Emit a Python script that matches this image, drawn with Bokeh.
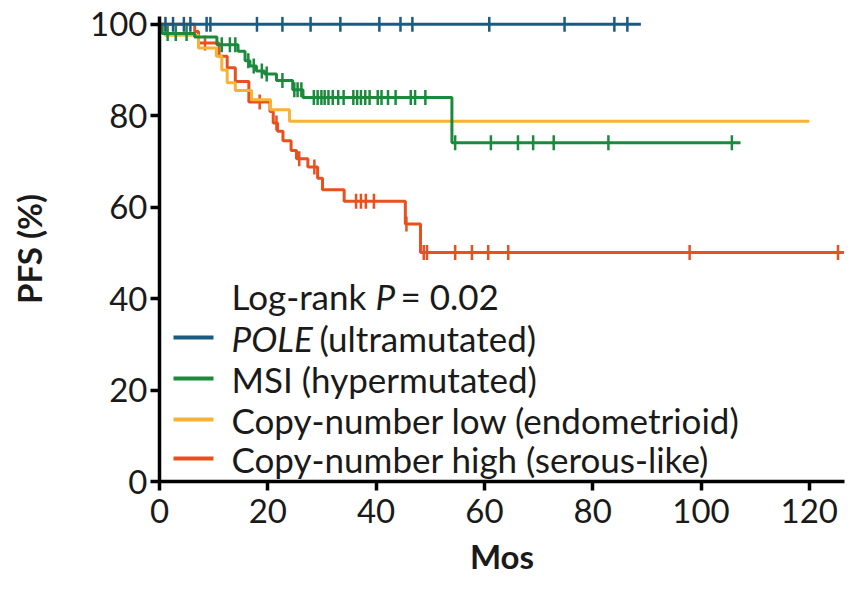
import numpy as np
from bokeh.plotting import figure
from bokeh.models import Range1d, Label, BoxAnnotation, FixedTicker
from bokeh.embed import file_html
from bokeh.resources import INLINE

# ---------------- data ----------------
x_ticks = [0, 20, 40, 60, 80, 100, 120]
y_ticks = [0, 20, 40, 60, 80, 100]

# POLE (ultramutated)
pole_t = [0.0]
pole_s = [100.0]
pole_end = 88.9
pole_cens = [1.1, 2.5, 4.5, 5.7, 8.7, 9.4, 18.0, 22.7, 27.9, 33.4, 40.6,
             44.5, 46.7, 60.9, 74.8, 84.0, 86.4]

# MSI (hypermutated)
msi_t = [0.0, 0.5, 6.5, 10.6, 14.5, 15.8, 16.7, 17.9, 19.4, 21.6, 24.6, 26.5, 54.0]
msi_s = [100.0, 98.0, 97.2, 95.5, 94.1, 92.0, 90.9, 89.8, 89.1, 87.7, 85.7, 84.0, 74.1]
msi_end = 107.3
msi_cens = [1.5, 3.0, 5.0, 11.5, 13.0, 14.0, 16.4, 17.4, 18.9, 19.8, 22.7, 24.9,
            25.5, 26.2, 28.5, 29.2, 29.9, 30.5, 31.2, 32.0, 33.0, 34.0, 35.8, 36.5,
            37.2, 38.0, 38.8, 40.3, 41.0, 42.2, 43.6, 46.4, 47.2, 49.1,
            54.6, 61.2, 66.2, 69.0, 72.8, 82.9, 105.7]

# Copy-number low (endometrioid)
cnl_t = [0.0, 1.0, 7.2, 10.5, 11.5, 12.5, 14.0, 17.0, 20.5, 24.0]
cnl_s = [100.0, 97.6, 94.8, 93.0, 90.0, 87.2, 85.5, 83.5, 81.3, 78.8]
cnl_end = 120.0
cnl_cens = []

# Copy-number high (serous-like)
cnh_t = [0.0, 6.5, 7.2, 11.0, 12.5, 14.0, 16.5, 20.4, 21.0, 21.8, 22.8, 24.3,
         25.3, 27.4, 29.2, 30.1, 34.1, 45.4, 48.2]
cnh_s = [100.0, 98.4, 95.9, 93.0, 90.5, 87.5, 83.0, 80.9, 78.4, 76.6, 74.5, 72.4,
         70.6, 68.8, 66.3, 63.8, 61.3, 56.3, 50.1]
cnh_end = 126.4
cnh_cens = [8.4, 18.5, 21.6, 25.8, 28.6, 36.3, 37.2, 38.1, 39.6, 45.6, 48.8, 49.4,
            54.6, 57.7, 60.7, 64.4, 97.9, 125.3]

col_pole = "#1b5b82"
col_msi = "#1c8a3c"
col_cnl = "#f8b234"
col_cnh = "#e8501d"

FONT = "Lato"
TXT = "#1a1a1a"

p = figure(width=845, height=578, output_backend="svg", toolbar_location=None,
           x_range=Range1d(0, 126.5), y_range=Range1d(0, 101.7),
           min_border_left=159, min_border_right=1, min_border_top=16,
           min_border_bottom=94)
p.outline_line_color = None
p.grid.visible = False
p.background_fill_color = "white"
p.border_fill_color = "white"


def curve(t, s, end, cens, color):
    xs = list(t) + [end]
    ys = list(s) + [s[-1]]
    p.step(xs, ys, mode="after", line_color=color, line_width=3)
    if len(cens):
        c = np.asarray(cens)
        idx = np.searchsorted(np.asarray(t), c, side="right") - 1
        cy = np.asarray(s)[idx]
        p.scatter(c, cy, marker="dash", angle=np.pi / 2, size=15,
                  line_color=color, line_width=2.5)


curve(cnh_t, cnh_s, cnh_end, cnh_cens, col_cnh)
curve(cnl_t, cnl_s, cnl_end, cnl_cens, col_cnl)
curve(msi_t, msi_s, msi_end, msi_cens, col_msi)
curve(pole_t, pole_s, pole_end, pole_cens, col_pole)

for ax in (p.xaxis[0], p.yaxis[0]):
    ax.axis_line_width = 3.5
    ax.axis_line_color = "black"
    ax.major_tick_line_width = 3.5
    ax.major_tick_line_color = "black"
    ax.major_tick_in = 0
    ax.major_tick_out = 9
    ax.minor_tick_line_color = None
    ax.major_label_text_font = FONT
    ax.major_label_text_font_size = "33px"
    ax.major_label_text_color = TXT
    ax.axis_label_text_font = FONT
    ax.axis_label_text_font_size = "33px"
    ax.axis_label_text_font_style = "bold"
    ax.axis_label_text_color = TXT

p.xaxis.ticker = FixedTicker(ticks=x_ticks)
p.yaxis.ticker = FixedTicker(ticks=y_ticks)
p.xaxis.axis_label = "Mos"
p.yaxis.axis_label = "PFS (%)"
p.xaxis.major_label_standoff = 8
p.yaxis.major_label_standoff = 3
p.xaxis.axis_label_standoff = 10
p.yaxis.axis_label_standoff = 38

# ---------------- legend (screen units, relative to frame) ----------------
LFS = "35px"


def lab(x, y, text, style="normal"):
    p.add_layout(Label(x=x, y=y, x_units="screen", y_units="screen", text=text,
                       text_font=FONT, text_font_size=LFS, text_font_style=style,
                       text_color=TXT, text_baseline="middle", text_align="left"))


lab(72, 186, "Log-rank")
lab(216, 186, "P", "italic")
lab(241, 186, "= 0.02")

rows = [(144, col_pole), (103, col_msi), (62, col_cnl), (23, col_cnh)]
for yy, cc in rows:
    p.add_layout(BoxAnnotation(left=14, right=54, bottom=yy - 2, top=yy + 2,
                               left_units="screen", right_units="screen",
                               bottom_units="screen", top_units="screen",
                               fill_color=cc, fill_alpha=1, line_color=None))

lab(72, 144, "POLE", "italic")
lab(160, 144, "(ultramutated)")
lab(72, 103, "MSI (hypermutated)")
lab(72, 62, "Copy-number low (endometrioid)")
lab(72, 23, "Copy-number high (serous-like)")

open("out.html", "w").write(file_html(p, INLINE))
